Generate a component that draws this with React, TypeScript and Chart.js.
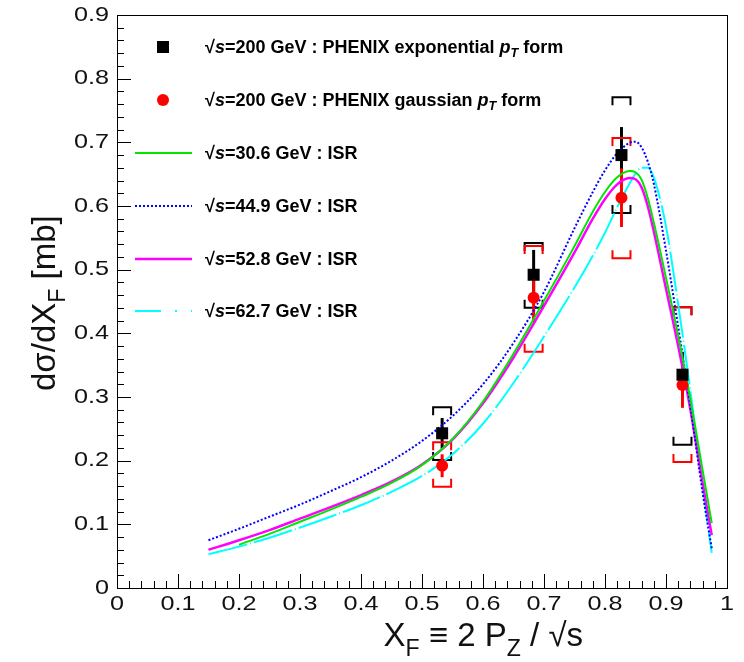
import React, { useEffect, useRef } from "react";
import { Chart, registerables } from "chart.js";
Chart.register(...registerables);

// ---------- data ----------
const curveX = [0.15, 0.2, 0.25, 0.3, 0.35, 0.4, 0.45, 0.5, 0.55, 0.6, 0.65, 0.7, 0.75, 0.78, 0.8, 0.82, 0.84, 0.85, 0.86, 0.87, 0.88, 0.9, 0.92, 0.94, 0.96, 0.975];
const isr306 = [null, 0.068, 0.085, 0.104, 0.123, 0.143, 0.165, 0.193, 0.234, 0.293, 0.368, 0.451, 0.537, 0.591, 0.622, 0.645, 0.655, 0.653, 0.641, 0.613, 0.574, 0.487, 0.396, 0.296, 0.185, 0.102];
const isr449 = [0.075, 0.093, 0.112, 0.131, 0.152, 0.174, 0.2, 0.231, 0.27, 0.32, 0.385, 0.465, 0.565, 0.622, 0.656, 0.683, 0.699, 0.701, 0.692, 0.67, 0.635, 0.53, 0.41, 0.285, 0.15, 0.062];
const isr528 = [0.06, 0.075, 0.091, 0.109, 0.127, 0.146, 0.167, 0.194, 0.233, 0.29, 0.362, 0.443, 0.527, 0.58, 0.611, 0.634, 0.644, 0.642, 0.629, 0.6, 0.56, 0.47, 0.38, 0.28, 0.165, 0.083];
const isr627 = [0.053, 0.065, 0.079, 0.095, 0.112, 0.13, 0.151, 0.176, 0.21, 0.258, 0.322, 0.395, 0.472, 0.522, 0.558, 0.598, 0.635, 0.651, 0.66, 0.66, 0.645, 0.568, 0.445, 0.31, 0.16, 0.055];

const phenixX = [0.533, 0.683, 0.827, 0.927];
const expY = [0.243, 0.492, 0.68, 0.335];
const expStat = [0.024, 0.039, 0.044, 0.036];
const expSysUp = [0.041, 0.05, 0.091, 0.106];
const expSysDown = [0.042, 0.052, 0.091, 0.11];
const gausY = [0.192, 0.456, 0.613, 0.319];
const gausStat = [0.018, 0.038, 0.046, 0.036];
const gausSysUp = [0.037, 0.081, 0.094, 0.122];
const gausSysDown = [0.033, 0.085, 0.095, 0.121];

const xTicks = [0, 0.1, 0.2, 0.3, 0.4, 0.5, 0.6, 0.7, 0.8, 0.9, 1];
const xTickLabels = ["0", "0.1", "0.2", "0.3", "0.4", "0.5", "0.6", "0.7", "0.8", "0.9", "1"];
const yTicks = [0, 0.1, 0.2, 0.3, 0.4, 0.5, 0.6, 0.7, 0.8, 0.9];
const yTickLabels = ["0", "0.1", "0.2", "0.3", "0.4", "0.5", "0.6", "0.7", "0.8", "0.9"];

const legendLabels = [
  "=200 GeV : PHENIX exponential |p|T| form",
  "=200 GeV : PHENIX gaussian |p|T| form",
  "=30.6 GeV : ISR",
  "=44.9 GeV : ISR",
  "=52.8 GeV : ISR",
  "=62.7 GeV : ISR",
];

const GREEN = "#00e600";
const BLUE = "#0000ff";
const MAGENTA = "#ff00ff";
const CYAN = "#00ffff";
const RED = "#ff0000";
const FONT = "'Liberation Sans', Arial, Helvetica, sans-serif";

type Seg = { t: string; it?: boolean; sub?: boolean };

function drawRich(ctx: CanvasRenderingContext2D, segs: Seg[], x: number, y: number, size: number, bold: boolean, sx = 1) {
  const w = bold ? "bold " : "";
  let cx = x;
  for (const s of segs) {
    const fs = s.sub ? size * 0.7 : size;
    ctx.font = `${s.it ? "italic " : ""}${w}${fs}px ${FONT}`;
    const dy = s.sub ? size * 0.3 : 0;
    ctx.save();
    ctx.translate(cx, y + dy);
    ctx.scale(sx, 1);
    ctx.fillText(s.t, 0, 0);
    ctx.restore();
    cx += ctx.measureText(s.t).width * sx;
  }
  return cx - x;
}

function measureRich(ctx: CanvasRenderingContext2D, segs: Seg[], size: number, bold: boolean, sx = 1) {
  const w = bold ? "bold " : "";
  let tot = 0;
  for (const s of segs) {
    const fs = s.sub ? size * 0.7 : size;
    ctx.font = `${s.it ? "italic " : ""}${w}${fs}px ${FONT}`;
    tot += ctx.measureText(s.t).width * sx;
  }
  return tot;
}

function legendSegs(label: string): Seg[] {
  const segs: Seg[] = [{ t: "\u221A" }, { t: "s", it: true }];
  const parts = label.split("|");
  if (parts.length === 1) {
    segs.push({ t: label });
  } else {
    segs.push({ t: parts[0] });
    segs.push({ t: parts[1], it: true });
    segs.push({ t: parts[2], it: true, sub: true });
    segs.push({ t: parts[3] });
  }
  return segs;
}

const rootPlugin = {
  id: "rootStyle",
  beforeDatasetsDraw(chart: any) {
    const ctx: CanvasRenderingContext2D = chart.ctx;
    const xs = chart.scales.x;
    const ys = chart.scales.y;
    const drawSet = (vals: number[], stat: number[], up: number[], down: number[], color: string) => {
      ctx.save();
      ctx.strokeStyle = color;
      for (let i = 0; i < phenixX.length; i++) {
        const px = xs.getPixelForValue(phenixX[i]);
        ctx.lineWidth = 3;
        ctx.beginPath();
        ctx.moveTo(px, ys.getPixelForValue(vals[i] + stat[i]));
        ctx.lineTo(px, ys.getPixelForValue(vals[i] - stat[i]));
        ctx.stroke();
        ctx.lineWidth = 2;
        const hw = 9;
        const leg = 8;
        const yt = ys.getPixelForValue(vals[i] + up[i]);
        const yb = ys.getPixelForValue(vals[i] - down[i]);
        ctx.beginPath();
        ctx.moveTo(px - hw, yt + leg);
        ctx.lineTo(px - hw, yt);
        ctx.lineTo(px + hw, yt);
        ctx.lineTo(px + hw, yt + leg);
        ctx.stroke();
        ctx.beginPath();
        ctx.moveTo(px - hw, yb - leg);
        ctx.lineTo(px - hw, yb);
        ctx.lineTo(px + hw, yb);
        ctx.lineTo(px + hw, yb - leg);
        ctx.stroke();
      }
      ctx.restore();
    };
    drawSet(expY, expStat, expSysUp, expSysDown, "#000000");
    drawSet(gausY, gausStat, gausSysUp, gausSysDown, RED);
  },
  afterDraw(chart: any) {
    const ctx: CanvasRenderingContext2D = chart.ctx;
    const xs = chart.scales.x;
    const ys = chart.scales.y;
    const a = chart.chartArea;
    ctx.save();
    ctx.strokeStyle = "#000";
    ctx.lineWidth = 1;
    ctx.strokeRect(Math.round(a.left) + 0.5, Math.round(a.top) + 0.5, Math.round(a.right - a.left), Math.round(a.bottom - a.top));
    ctx.beginPath();
    for (let i = 0; i <= 50; i++) {
      const v = i * 0.02;
      const major = i % 5 === 0;
      const px = Math.round(xs.getPixelForValue(v)) + 0.5;
      ctx.moveTo(px, a.bottom);
      ctx.lineTo(px, a.bottom - (major ? 14 : 7));
    }
    for (let i = 0; i <= 45; i++) {
      const v = i * 0.02;
      const major = i % 5 === 0;
      const py = Math.round(ys.getPixelForValue(v)) + 0.5;
      ctx.moveTo(a.left, py);
      ctx.lineTo(a.left + (major ? 14 : 7), py);
    }
    ctx.stroke();
    // tick labels (horizontally widened like the reference)
    ctx.fillStyle = "#111";
    ctx.textBaseline = "middle";
    const TS = 21;
    const SX = 1.2;
    xTicks.forEach((v, i) => {
      const segs = [{ t: xTickLabels[i] }];
      const w = measureRich(ctx, segs, TS, false, SX);
      drawRich(ctx, segs, xs.getPixelForValue(v) - w / 2, a.bottom + 16, TS, false, SX);
    });
    yTicks.forEach((v, i) => {
      const segs = [{ t: yTickLabels[i] }];
      const w = measureRich(ctx, segs, TS, false, SX);
      drawRich(ctx, segs, a.left - 8 - w, ys.getPixelForValue(v), TS, false, SX);
    });
    ctx.textAlign = "left";
    ctx.textBaseline = "alphabetic";
    const xTitle: Seg[] = [
      { t: "X" }, { t: "F", sub: true }, { t: " \u2261 2 P" }, { t: "Z", sub: true }, { t: " / \u221As" },
    ];
    const xw = measureRich(ctx, xTitle, 33, false);
    drawRich(ctx, xTitle, 583 - xw, 646, 33, false);
    const yTitle: Seg[] = [{ t: "d\u03C3/dX" }, { t: "F", sub: true }, { t: " [mb]" }];
    ctx.save();
    ctx.translate(55, 391);
    ctx.rotate(-Math.PI / 2);
    drawRich(ctx, yTitle, 0, 0, 33, false);
    ctx.restore();
    const rowY = [47, 100, 153, 206, 259, 311];
    ctx.textBaseline = "middle";
    ctx.fillStyle = "#000";
    legendLabels.forEach((lab, i) => {
      drawRich(ctx, legendSegs(lab), 205, rowY[i] + 1, 18, true);
    });
    ctx.fillStyle = "#000";
    ctx.fillRect(163 - 6, rowY[0] - 6, 12, 12);
    ctx.fillStyle = RED;
    ctx.beginPath();
    ctx.arc(163, rowY[1], 6, 0, Math.PI * 2);
    ctx.fill();
    const lineStyles = [
      { c: GREEN, d: [] as number[], w: 2 },
      { c: BLUE, d: [2, 2], w: 2 },
      { c: MAGENTA, d: [] as number[], w: 2.5 },
      { c: CYAN, d: [26, 14, 2, 14], w: 2 },
    ];
    lineStyles.forEach((s, k) => {
      ctx.strokeStyle = s.c;
      ctx.lineWidth = s.w;
      ctx.setLineDash(s.d);
      ctx.beginPath();
      ctx.moveTo(135, rowY[k + 2]);
      ctx.lineTo(192, rowY[k + 2]);
      ctx.stroke();
    });
    ctx.setLineDash([]);
    ctx.restore();
  },
};

function curveData(ys: (number | null)[]) {
  const out: { x: number; y: number }[] = [];
  curveX.forEach((x, i) => {
    const y = ys[i];
    if (y !== null) out.push({ x, y });
  });
  return out;
}

export default function App() {
  const ref = useRef<HTMLCanvasElement | null>(null);
  useEffect(() => {
    document.body.style.margin = "0";
    const canvas = ref.current;
    if (!canvas) return;
    const line = (label: string, d: (number | null)[], color: string, w: number, dash: number[]) => ({
      label,
      data: curveData(d),
      showLine: true,
      borderColor: color,
      borderWidth: w,
      borderDash: dash,
      pointRadius: 0,
      cubicInterpolationMode: "monotone",
    });
    const chart = new Chart(canvas, {
      type: "scatter",
      data: {
        datasets: [
          {
            label: "exp",
            data: phenixX.map((x, i) => ({ x, y: expY[i] })),
            pointStyle: "rect",
            pointRadius: 8.5,
            backgroundColor: "#000",
            borderColor: "#000",
            borderWidth: 0,
            showLine: false,
          },
          {
            label: "gaus",
            data: phenixX.map((x, i) => ({ x, y: gausY[i] })),
            pointStyle: "circle",
            pointRadius: 6,
            backgroundColor: RED,
            borderColor: RED,
            borderWidth: 0,
            showLine: false,
          },
          line("30.6", isr306, GREEN, 2, []),
          line("44.9", isr449, BLUE, 2, [2, 2]),
          line("52.8", isr528, MAGENTA, 2.5, []),
          line("62.7", isr627, CYAN, 2, [40, 3, 1, 3]),
        ],
      },
      options: {
        animation: false,
        responsive: false,
        devicePixelRatio: 1,
        layout: { padding: { left: 117, right: 17, top: 15, bottom: 74 } },
        plugins: { legend: { display: false }, tooltip: { enabled: false } },
        scales: {
          x: { type: "linear", min: 0, max: 1, display: false },
          y: { type: "linear", min: 0, max: 0.9, display: false },
        },
      },
      plugins: [rootPlugin],
    } as any);
    return () => chart.destroy();
  }, []);
  return <canvas ref={ref} width={744} height={662} style={{ display: "block" }} />;
}
